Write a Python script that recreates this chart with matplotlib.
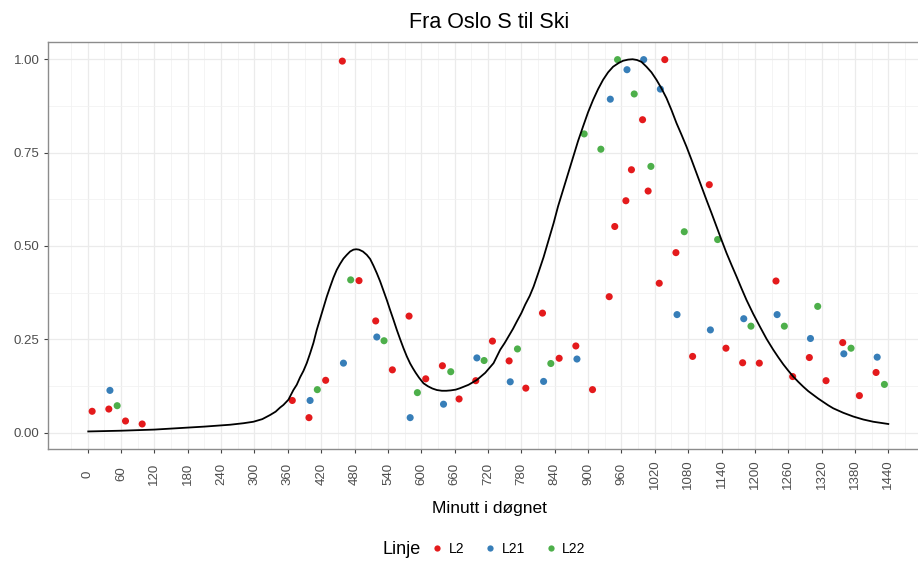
import numpy as np
import matplotlib
matplotlib.use('Agg')
import matplotlib.pyplot as plt
from matplotlib.lines import Line2D

plt.rcParams['font.family'] = ['Liberation Sans', 'DejaVu Sans']

# punkter per linje: minutt i døgnet og relativ verdi
l2_min = [8, 38, 68, 98, 368, 398, 428, 458, 488, 518, 548, 578, 608, 638, 668,
          698, 728, 758, 788, 818, 848, 878, 908, 938, 948, 968, 978, 998, 1008,
          1028, 1038, 1058, 1088, 1118, 1148, 1178, 1208, 1238, 1268, 1298, 1328,
          1358, 1388, 1418]
l2_val = [0.057, 0.063, 0.031, 0.023, 0.086, 0.040, 0.140, 0.995, 0.407, 0.299,
          0.168, 0.312, 0.144, 0.179, 0.090, 0.139, 0.245, 0.192, 0.119, 0.320,
          0.199, 0.232, 0.115, 0.364, 0.552, 0.621, 0.704, 0.838, 0.647, 0.400,
          0.999, 0.482, 0.204, 0.664, 0.226, 0.187, 0.186, 0.406, 0.150, 0.201,
          0.139, 0.241, 0.099, 0.161]

l21_min = [40, 400, 460, 520, 580, 640, 700, 760, 820, 880, 940, 970, 1000, 1030,
           1060, 1120, 1180, 1240, 1300, 1360, 1420]
l21_val = [0.113, 0.086, 0.186, 0.256, 0.040, 0.076, 0.200, 0.136, 0.137, 0.197,
           0.893, 0.972, 0.999, 0.920, 0.316, 0.275, 0.305, 0.316, 0.252, 0.211,
           0.202]

l22_min = [53, 413, 473, 533, 593, 653, 713, 773, 833, 893, 923, 953, 983, 1013,
           1073, 1133, 1193, 1253, 1313, 1373, 1433]
l22_val = [0.072, 0.115, 0.409, 0.246, 0.107, 0.163, 0.193, 0.224, 0.185, 0.800,
           0.759, 0.999, 0.907, 0.713, 0.538, 0.517, 0.285, 0.285, 0.338, 0.226,
           0.129]

# glattet kurve
kurve_min = [1, 60, 120, 166, 210, 256, 280, 298, 314, 328, 338, 346, 352, 361,
             370, 376, 382, 388, 394, 400, 406, 412, 418, 424, 430, 436, 442, 448,
             454, 460, 466, 472, 478, 483, 488, 495, 502, 508, 514, 520, 526, 532,
             538, 544, 550, 556, 562, 568, 574, 580, 585, 590, 596, 604, 612, 620,
             628, 637, 645, 653, 662, 670, 685, 700, 715, 730, 742, 750, 757, 765,
             772, 780, 787, 795, 802, 811, 820, 829, 838, 846, 855, 864, 873, 882,
             891, 900, 909, 918, 927, 936, 945, 955, 963, 972, 980, 988, 996, 1005,
             1014, 1023, 1032, 1041, 1050, 1059, 1068, 1077, 1086, 1095, 1104,
             1113, 1122, 1131, 1140, 1149, 1158, 1167, 1176, 1185, 1197, 1209,
             1221, 1233, 1242, 1251, 1260, 1269, 1278, 1287, 1296, 1305, 1314,
             1323, 1332, 1341, 1350, 1359, 1368, 1377, 1386, 1395, 1404, 1413,
             1426, 1440]
kurve_val = [0.003, 0.005, 0.008, 0.012, 0.016, 0.021, 0.025, 0.029, 0.036, 0.047,
             0.056, 0.067, 0.074, 0.088, 0.114, 0.128, 0.148, 0.165, 0.186, 0.212,
             0.240, 0.275, 0.305, 0.335, 0.364, 0.390, 0.415, 0.436, 0.452, 0.466,
             0.476, 0.485, 0.490, 0.491, 0.490, 0.485, 0.476, 0.465, 0.447, 0.427,
             0.405, 0.380, 0.355, 0.328, 0.302, 0.275, 0.250, 0.226, 0.204, 0.185,
             0.172, 0.160, 0.147, 0.132, 0.124, 0.118, 0.114, 0.112, 0.112, 0.113,
             0.115, 0.119, 0.128, 0.141, 0.160, 0.186, 0.222, 0.240, 0.258, 0.278,
             0.298, 0.320, 0.343, 0.366, 0.391, 0.430, 0.470, 0.516, 0.561, 0.606,
             0.650, 0.695, 0.739, 0.781, 0.820, 0.858, 0.891, 0.920, 0.945, 0.965,
             0.980, 0.990, 0.996, 0.999, 1.000, 0.998, 0.993, 0.980, 0.965, 0.945,
             0.922, 0.896, 0.864, 0.829, 0.798, 0.766, 0.731, 0.695, 0.659, 0.623,
             0.588, 0.552, 0.516, 0.481, 0.449, 0.418, 0.386, 0.355, 0.318, 0.284,
             0.251, 0.222, 0.202, 0.183, 0.166, 0.150, 0.136, 0.123, 0.111, 0.101,
             0.091, 0.082, 0.073, 0.065, 0.059, 0.053, 0.048, 0.043, 0.039, 0.035,
             0.032, 0.029, 0.026, 0.023]

linjer = ['L2', 'L21', 'L22']
farger = ['#E41A1C', '#377EB8', '#4DAF4A']
xticks = list(range(0, 1441, 60))
yticks = [0, 0.25, 0.5, 0.75, 1.0]

W, H = 918, 564
fig = plt.figure(figsize=(W / 100, H / 100), dpi=100)
fig.patch.set_facecolor('white')
# panelet er beskaaret til hoyre i originalen
ax = fig.add_axes([48 / W, 1 - 449 / H, (930 - 48) / W, (449 - 41.7) / H])

for mins, vals, farge in zip([l2_min, l21_min, l22_min],
                             [l2_val, l21_val, l22_val], farger):
    ax.scatter(mins, vals, s=26, color=farge, edgecolors='none', zorder=3)

ax.plot(kurve_min, kurve_val, color='black', lw=1.3, zorder=4,
        solid_joinstyle='round')

ax.set_xlim(-71.4, 1515)
ax.set_ylim(-0.044, 1.047)
ax.set_xticks(xticks)
ax.set_xticks([x + 30 for x in xticks[:-1]] + [-30, 1470], minor=True)
ax.set_yticks(yticks)
ax.set_yticks([0.125, 0.375, 0.625, 0.875], minor=True)
ax.set_yticklabels(['%.2f' % v for v in yticks])
ax.set_xticklabels([str(x) for x in xticks], rotation=90, va='center', ha='center')

ax.grid(which='major', color='#EBEBEB', lw=0.9)
ax.grid(which='minor', color='#F2F2F2', lw=0.6)
ax.set_axisbelow(True)
for sp in ax.spines.values():
    sp.set_color('#8C8C8C')
    sp.set_linewidth(1.0)

ax.tick_params(which='major', length=3, width=0.8, color='#444444',
               labelcolor='#4D4D4D', labelsize=9.5)
ax.tick_params(axis='x', which='major', pad=15)
ax.tick_params(axis='y', which='major', pad=3)
ax.tick_params(which='minor', length=0)

fig.text(489 / W, 1 - 23 / H, 'Fra Oslo S til Ski', ha='center', va='center',
         fontsize=15.5, color='black')
fig.text(489 / W, 1 - 508 / H, 'Minutt i døgnet', ha='center', va='center',
         fontsize=12.5, color='black')

# legende
fig.text(383 / W, 1 - 549 / H, 'Linje', ha='left', va='center', fontsize=13)
handles = [Line2D([], [], marker='o', ls='none', color=f, markersize=4.5,
                  markeredgewidth=0) for f in farger]
fig.legend(handles, linjer, loc='center left', bbox_to_anchor=(429 / W, 1 - 549 / H),
           ncol=3, frameon=False, fontsize=10, handletextpad=0.2,
           columnspacing=1.3, handlelength=1.2, borderaxespad=0, borderpad=0)

fig.savefig('out.png', dpi=100, facecolor='white')
